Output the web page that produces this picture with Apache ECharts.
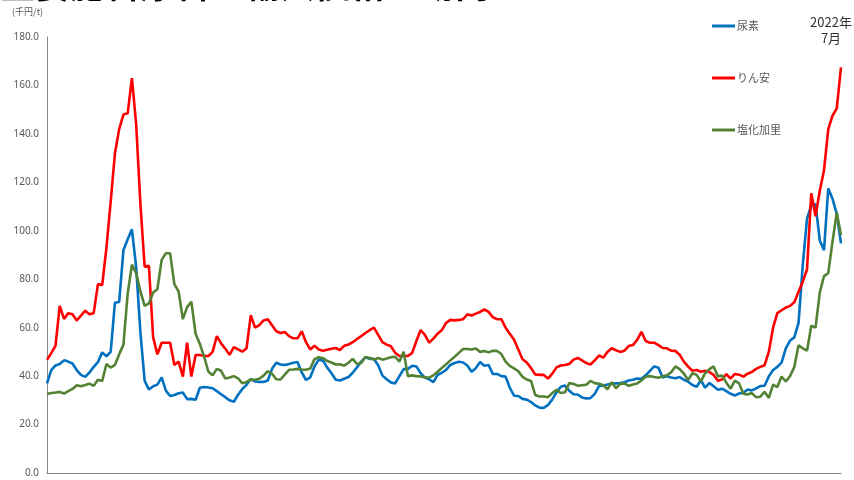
<!DOCTYPE html>
<html>
<head>
<meta charset="utf-8">
<script src="https://cdn.jsdelivr.net/npm/echarts@6/dist/echarts.min.js"></script>
<style>html,body{margin:0;padding:0;background:#fff}#c{width:854px;height:480px}</style>
</head>
<body>
<div id="c"></div>
<script>
// ---- data (monthly, ending July 2022) ----
var seriesNames = ['尿素', 'りん安', '塩化加里'];
var yTicks = [0, 20, 40, 60, 80, 100, 120, 140, 160, 180];
var urea = [37,42.5,44.4,45,46.5,46,45.2,42.5,40.5,39.7,
41.5,43.8,45.8,49.8,48.2,50,70.3,70.6,92,96.5,
100.6,85,58,38,34.5,35.8,36.5,39.5,34,31.8,
32.2,32.9,33.2,30.5,30.6,30.2,35.2,35.5,35.3,35,
33.8,32.5,31.3,30,29.4,32.3,34.7,36.4,38.8,37.8,
37.6,37.6,38.2,43,45.5,44.8,44.6,45,45.5,45.8,
41.5,38.4,39.5,44,46.8,46.4,43.5,41.2,38.5,38.2,
38.9,39.6,41.4,43.6,46,47.8,47.1,47.1,44.5,40.2,
38.7,37.4,37,40,42.9,43,44.3,44,41.2,39.4,
38.7,37.5,40.5,41.4,42.6,44.6,45.4,45.9,45.6,44.4,
41.8,43.3,45.8,44.3,44.6,40.9,40.9,40,39.8,35.2,
31.9,31.8,30.6,30.3,29.3,27.9,27,26.9,28.1,30.4,
33.3,35.6,36.1,34,32.5,32.4,31.2,30.8,30.9,32.7,
35.9,36,36.5,36.8,37,37.1,37.5,38.2,38.5,39,
38.9,40.3,42.2,44,43.5,39.4,39.9,39.4,39.1,39.6,
38.5,37.7,36.3,35.6,38.3,35.2,37.2,35.8,34.4,34.8,
33.8,32.7,32,32.8,33.1,34.5,34.1,34.9,35.9,36,
39.9,42.5,43.8,45.6,51.5,54.7,56,62,86,105,
110.5,111,96,92,117.5,113.2,107,94.8];
var dap = [46.7,49.5,52.5,69,63.6,66,65.5,63,65,67,
65.5,66,78,77.6,93,112,132,142,148,148.5,
163,144,111,85.2,85.5,56,49,53.8,53.8,53.8,
44.6,46,39.8,53.8,39.8,48.7,48.7,48.3,48.3,50,
56.5,53.5,51.3,48.8,52,51,50.1,51.5,65.2,60,
61,63,63.5,61,58.5,57.8,58.2,56.5,55.6,55.6,
58.5,54,51,52.5,51,50.5,50.9,51.3,51.6,50.8,
52.5,53,54,55.3,56.5,57.8,59,60,57,54,
53,52.3,49.6,48.3,48.3,48.3,49.6,54.5,59,57,
53.8,55.5,57.5,59,62,63.2,63,63.2,63.5,65.5,
65,65.8,66.5,67.5,66.5,64.3,63.5,63.5,60,57.5,
55,51,47,45.6,43.3,40.7,40.5,40.5,39,41,
43.6,44.4,44.6,45,46.8,47.5,46.5,45.4,44.8,46.5,
48.5,47.6,50,51.5,50.7,50,50.5,52.4,52.8,55,
58.3,54.5,53.8,53.8,52.8,51.6,51.5,50.5,50.4,48.8,
46,43.9,42.2,42.5,41.8,42.2,41.7,40.5,38.1,38.6,
40.8,39,40.9,40.6,39.8,41,41.7,43,43.8,44.5,
50,60,66,67.2,68.3,69,70.5,74.8,79,84,
115.5,106,116.5,125,142,147.5,150.5,167.5];
var potash = [32.6,33,33.2,33.5,32.8,33.8,34.7,36.2,35.8,36.3,
36.9,36,38.5,38,45,43.5,44.6,49,53,74,
86,82.5,75,69,70,74.5,75.9,88,90.7,90.7,
78,74.9,63.5,68.5,70.7,57.5,53.3,48,41.9,40.3,
43,42.2,39,39.4,40,39.1,37,37.6,38.6,38.5,
38.9,40.2,42,41,38.7,38.6,40.6,42.6,42.7,43,
42.7,42.6,43.1,47,47.8,47.4,46.2,45.6,44.8,44.9,
44.3,45.5,47.1,45,45.4,47.9,47.5,46.8,47.5,46.8,
47.3,47.8,48,46,50.1,40,40.3,40,39.9,39.4,
39.4,40.3,41.8,43.4,44.9,46.5,48,49.6,51.2,51.2,
51,51.4,50,50.4,49.8,50.5,50.4,49.1,46,44.2,
43.2,42,39.7,38.6,38,32.2,31.6,31.6,31.3,33,
34.4,33,33.3,37.1,36.8,36,36.2,36.4,38,37.1,
36.8,36.3,34.5,37.5,35,36.8,37,36,36.5,37,
38.2,39.7,40,39.6,39.3,39.9,40.3,41.6,44,42.9,
41,38.4,41.2,40.5,37.8,41.2,42.9,44,39.9,40.2,
37.3,34.8,38.1,37,32.7,32.4,33,31.3,31.5,33.5,
31,36.5,35.5,39.8,37.8,40,43.8,52.7,51.5,50.5,
60.8,60,74.5,81.3,82.5,95.5,107.5,98.3];
// month categories ending 2022-07
var months = [];
(function () {
  var n = urea.length, y = 2022, m = 7;
  for (var k = 0; k < n; k++) {
    months.unshift(y + '/' + m);
    m--; if (m === 0) { m = 12; y--; }
  }
})();
var colors = ['#0070C0', '#FF0000', '#548235'];
var values = [urea, dap, potash];

var chart = echarts.init(document.getElementById('c'));
chart.setOption({
  animation: false,
  backgroundColor: '#ffffff',
  grid: { left: 47, right: 13, top: 37, bottom: 7, containLabel: false },
  legend: {
    orient: 'vertical', left: 707, top: 14,
    itemGap: 38, itemWidth: 23, itemHeight: 3, icon: 'rect',
    textStyle: { fontSize: 11, color: '#595959', padding: [0, 0, 0, -3], lineHeight: 14,
      fontFamily: '"Noto Sans CJK JP", sans-serif' },
    data: seriesNames
  },
  xAxis: {
    type: 'category', data: months, boundaryGap: false,
    axisLine: { show: true, lineStyle: { color: '#868686', width: 1 } },
    axisTick: { show: false }, axisLabel: { show: false }, splitLine: { show: false }
  },
  yAxis: {
    type: 'value', min: yTicks[0], max: yTicks[yTicks.length - 1], interval: 20,
    axisLine: { show: true, lineStyle: { color: '#868686', width: 1 } },
    axisTick: { show: false }, splitLine: { show: false },
    axisLabel: { formatter: function (v) { return v.toFixed(1); }, color: '#595959', fontSize: 10, margin: 8,
      fontFamily: '"Noto Sans", sans-serif' }
  },
  graphic: [
    { type: 'text', left: 12, top: 7, style: { text: '(千円/t)', fontSize: 9, fill: '#595959',
      fontFamily: '"Noto Sans CJK JP", sans-serif' } },
    { type: 'text', x: 831, y: 16, style: { text: '2022年', fontSize: 13, fill: '#333333',
      align: 'center', verticalAlign: 'top', fontFamily: '"Noto Sans CJK JP", sans-serif' } },
    { type: 'text', x: 831, y: 32, style: { text: '7月', fontSize: 13, fill: '#333333',
      align: 'center', verticalAlign: 'top', fontFamily: '"Noto Sans CJK JP", sans-serif' } },
    { type: 'text', left: 0, top: -33, style: { text: '主要肥料原料の輸入価格の動向', fontSize: 35, fontWeight: 'bold',
      fill: '#000000', fontFamily: '"Noto Sans CJK JP", sans-serif' } }
  ],
  series: seriesNames.map(function (nm, k) {
    return {
      name: nm, type: 'line', data: values[k], showSymbol: false, symbol: 'none',
      lineStyle: { color: colors[k], width: 2.6 }, itemStyle: { color: colors[k] }
    };
  })
});
</script>
</body>
</html>
